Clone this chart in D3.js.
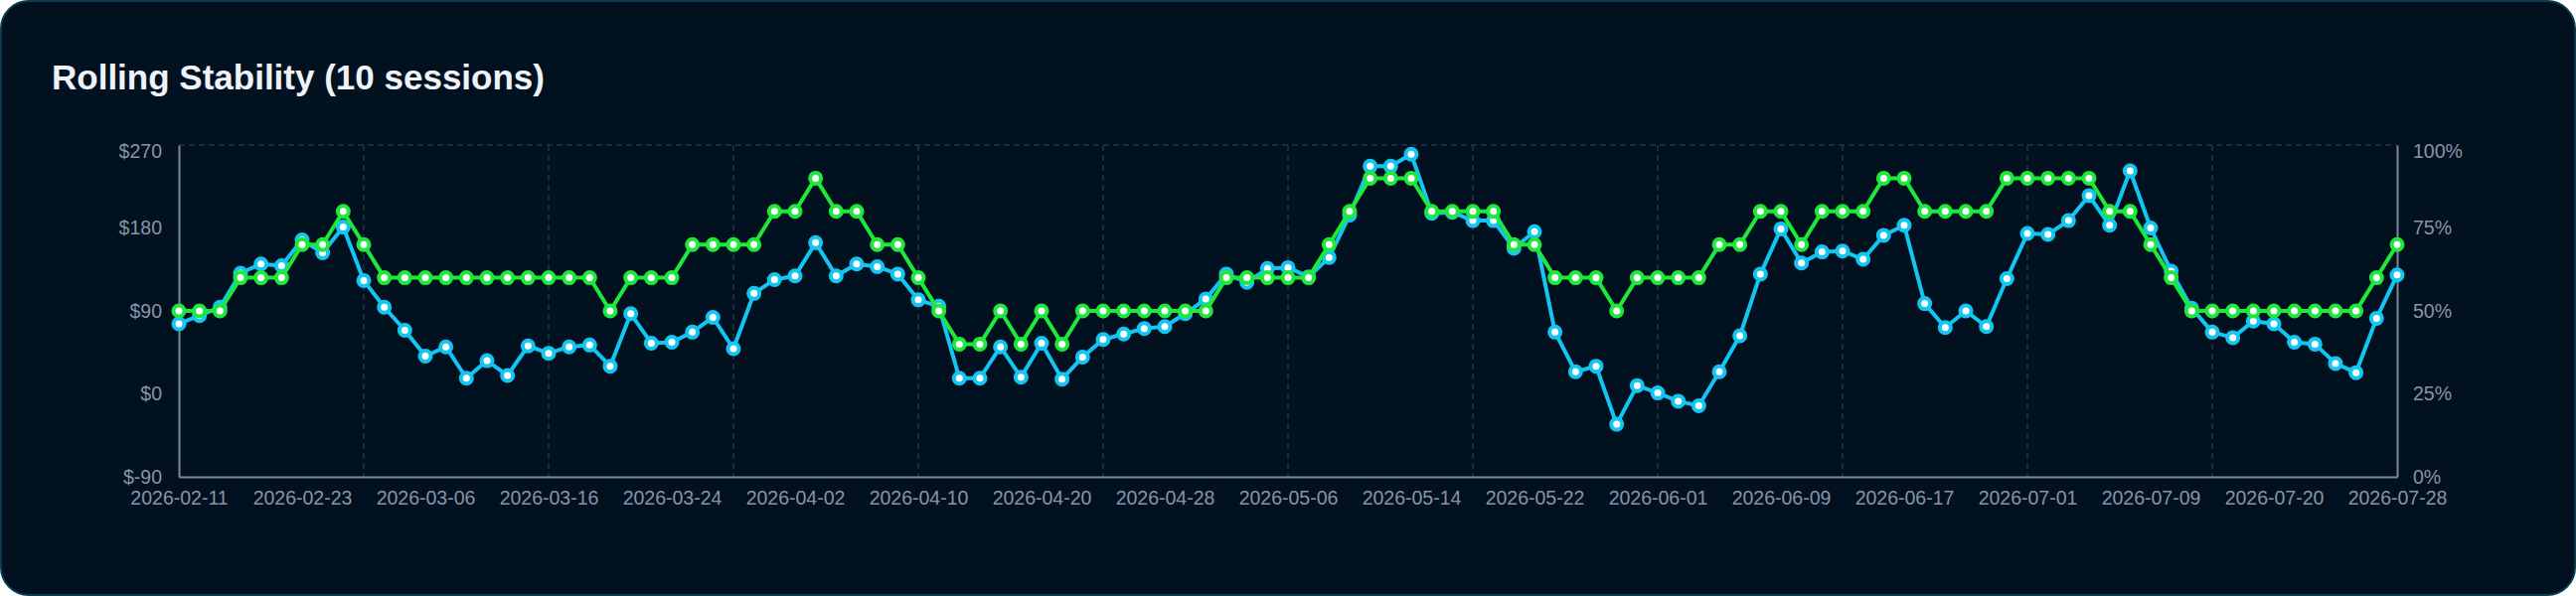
<!DOCTYPE html>
<html>
<head>
<meta charset="utf-8">
<script src="https://cdn.jsdelivr.net/npm/d3@7/dist/d3.min.js"></script>
<style>
  html, body { margin: 0; padding: 0; background: #ffffff; }
  svg { display: block; }
  text { font-family: "Liberation Sans", Arial, Helvetica, sans-serif; }
</style>
</head>
<body>
<svg id="chart" width="2592" height="600"></svg>
<script>
// ---------- DATA ----------
const title = "Rolling Stability (10 sessions)";

const sessions = [
  "2026-02-11","2026-02-12","2026-02-13","2026-02-16","2026-02-18","2026-02-20",
  "2026-02-23","2026-02-24","2026-02-25","2026-02-27","2026-03-02","2026-03-04",
  "2026-03-06","2026-03-09","2026-03-10","2026-03-11","2026-03-12","2026-03-13",
  "2026-03-16","2026-03-17","2026-03-18","2026-03-19","2026-03-20","2026-03-23",
  "2026-03-24","2026-03-25","2026-03-26","2026-03-27","2026-03-30","2026-03-31",
  "2026-04-02","2026-04-03","2026-04-06","2026-04-07","2026-04-08","2026-04-09",
  "2026-04-10","2026-04-13","2026-04-14","2026-04-15","2026-04-16","2026-04-17",
  "2026-04-20","2026-04-21","2026-04-22","2026-04-23","2026-04-24","2026-04-27",
  "2026-04-28","2026-04-29","2026-04-30","2026-05-01","2026-05-04","2026-05-05",
  "2026-05-06","2026-05-07","2026-05-08","2026-05-11","2026-05-12","2026-05-13",
  "2026-05-14","2026-05-15","2026-05-18","2026-05-19","2026-05-20","2026-05-21",
  "2026-05-22","2026-05-25","2026-05-26","2026-05-27","2026-05-28","2026-05-29",
  "2026-06-01","2026-06-02","2026-06-03","2026-06-04","2026-06-05","2026-06-08",
  "2026-06-09","2026-06-10","2026-06-11","2026-06-12","2026-06-15","2026-06-16",
  "2026-06-17","2026-06-19","2026-06-22","2026-06-24","2026-06-26","2026-06-29",
  "2026-07-01","2026-07-02","2026-07-03","2026-07-06","2026-07-07","2026-07-08",
  "2026-07-09","2026-07-10","2026-07-13","2026-07-14","2026-07-15","2026-07-17",
  "2026-07-20","2026-07-21","2026-07-22","2026-07-23","2026-07-24","2026-07-27",
  "2026-07-28"
];

// rolling average P&L ($), left axis
const rollingPnl = [
  76, 85, 94, 131, 141, 139, 167, 153, 181, 123, 94, 69,
  41, 51, 17, 36, 20, 52, 44, 51, 53, 30, 87, 55,
  56, 67, 83, 49, 109, 124, 128, 164, 128, 141, 138, 130,
  102, 95, 17, 17, 51, 18, 55, 16, 40, 59, 65, 71,
  73, 87, 103, 130, 121, 136, 137, 127, 148, 194, 247, 247,
  260, 196, 197, 188, 188, 158, 176, 67, 24, 30, -33, 9,
  1, -8, -13, 24, 63, 130, 179, 142, 154, 155, 146, 172,
  183, 98, 72, 90, 73, 125, 174, 173, 188, 215, 183, 242,
  180, 133, 93, 67, 61, 79, 76, 56, 54, 33, 23, 82,
  129
];

// rolling win rate (%), right axis
const rollingWinRate = [
  50, 50, 50, 60, 60, 60, 70, 70, 80, 70, 60, 60,
  60, 60, 60, 60, 60, 60, 60, 60, 60, 50, 60, 60,
  60, 70, 70, 70, 70, 80, 80, 90, 80, 80, 70, 70,
  60, 50, 40, 40, 50, 40, 50, 40, 50, 50, 50, 50,
  50, 50, 50, 60, 60, 60, 60, 60, 70, 80, 90, 90,
  90, 80, 80, 80, 80, 70, 70, 60, 60, 60, 50, 60,
  60, 60, 60, 70, 70, 80, 80, 70, 80, 80, 80, 90,
  90, 80, 80, 80, 80, 90, 90, 90, 90, 90, 80, 80,
  70, 60, 50, 50, 50, 50, 50, 50, 50, 50, 50, 60,
  70
];

const xTickLabels = [
  "2026-02-11","2026-02-23","2026-03-06","2026-03-16","2026-03-24",
  "2026-04-02","2026-04-10","2026-04-20","2026-04-28","2026-05-06",
  "2026-05-14","2026-05-22","2026-06-01","2026-06-09","2026-06-17",
  "2026-07-01","2026-07-09","2026-07-20","2026-07-28"
];
const leftTicks = [-90, 0, 90, 180, 270];
const rightTicks = [0, 25, 50, 75, 100];

// ---------- LAYOUT ----------
const W = 2592, H = 600;
const plot = { left: 180, right: 2412, top: 146, bottom: 480 };
const colors = {
  bg: "#011120", border: "#0b3a4e", title: "#eef3f8",
  axis: "#7e889c", tick: "#8a93a6", grid: "#263244",
  pnl: "#13c6f2", win: "#1ee83c", dotFill: "#ffffff"
};

const svg = d3.select("#chart");

svg.append("rect")
  .attr("x", 1).attr("y", 1).attr("width", W - 2).attr("height", H - 2)
  .attr("rx", 28).attr("ry", 28)
  .attr("fill", colors.bg).attr("stroke", colors.border).attr("stroke-width", 2);

svg.append("text")
  .attr("x", 52).attr("y", 90)
  .attr("fill", colors.title)
  .attr("font-size", 35).attr("font-weight", "bold")
  .text(title);

const x = d3.scalePoint().domain(sessions).range([plot.left, plot.right]).padding(0);
const yL = d3.scaleLinear().domain([-90, 270]).range([plot.bottom, plot.top]);
const yR = d3.scaleLinear().domain([0, 100]).range([plot.bottom, plot.top]);

// grid: vertical dashed lines every 9 sessions, dashed top line
const gridG = svg.append("g");
gridG.selectAll("line.v")
  .data(sessions.filter((d, i) => i > 0 && i % 9 === 0 && i < sessions.length - 1))
  .join("line")
  .attr("x1", d => x(d)).attr("x2", d => x(d))
  .attr("y1", plot.top).attr("y2", plot.bottom)
  .attr("stroke", colors.grid).attr("stroke-width", 1.5)
  .attr("stroke-dasharray", "6,4");
gridG.append("line")
  .attr("x1", plot.left).attr("x2", plot.right)
  .attr("y1", yL(270)).attr("y2", yL(270))
  .attr("stroke", colors.grid).attr("stroke-width", 1.5)
  .attr("stroke-dasharray", "6,4");

// axes
function styleAxis(g) {
  g.selectAll(".domain").attr("stroke", colors.axis).attr("stroke-width", 2);
  g.selectAll(".tick line").remove();
  g.selectAll(".tick text")
    .attr("fill", colors.tick)
    .attr("font-size", 19.5)
    .attr("font-family", '"Liberation Sans", Arial, Helvetica, sans-serif');
}

const xAxis = svg.append("g")
  .attr("transform", `translate(0,${plot.bottom})`)
  .call(d3.axisBottom(x).tickValues(xTickLabels).tickSize(0).tickPadding(14).tickSizeOuter(0));
styleAxis(xAxis);

const leftAxis = svg.append("g")
  .attr("transform", `translate(${plot.left},0)`)
  .call(d3.axisLeft(yL).tickValues(leftTicks).tickFormat(d => "$" + d).tickSize(0).tickPadding(17).tickSizeOuter(0));
styleAxis(leftAxis);
leftAxis.selectAll(".tick text").filter(d => d === 270).attr("dy", "0.65em");

const rightAxis = svg.append("g")
  .attr("transform", `translate(${plot.right},0)`)
  .call(d3.axisRight(yR).tickValues(rightTicks).tickFormat(d => d + "%").tickSize(0).tickPadding(16).tickSizeOuter(0));
styleAxis(rightAxis);
rightAxis.selectAll(".tick text").filter(d => d === 100).attr("dy", "0.65em");

// series
function drawSeries(values, yScale, color) {
  const pts = sessions.map((s, i) => [s, values[i]]);
  const line = d3.line().x(d => x(d[0])).y(d => yScale(d[1]));
  const g = svg.append("g");
  g.append("path")
    .datum(pts)
    .attr("d", line)
    .attr("fill", "none")
    .attr("stroke", color)
    .attr("stroke-width", 4)
    .attr("stroke-linejoin", "round");
  g.selectAll("circle")
    .data(pts)
    .join("circle")
    .attr("cx", d => x(d[0]))
    .attr("cy", d => yScale(d[1]))
    .attr("r", 5.5)
    .attr("fill", colors.dotFill)
    .attr("stroke", color)
    .attr("stroke-width", 4);
}

drawSeries(rollingPnl, yL, colors.pnl);
drawSeries(rollingWinRate, yR, colors.win);
</script>
</body>
</html>
